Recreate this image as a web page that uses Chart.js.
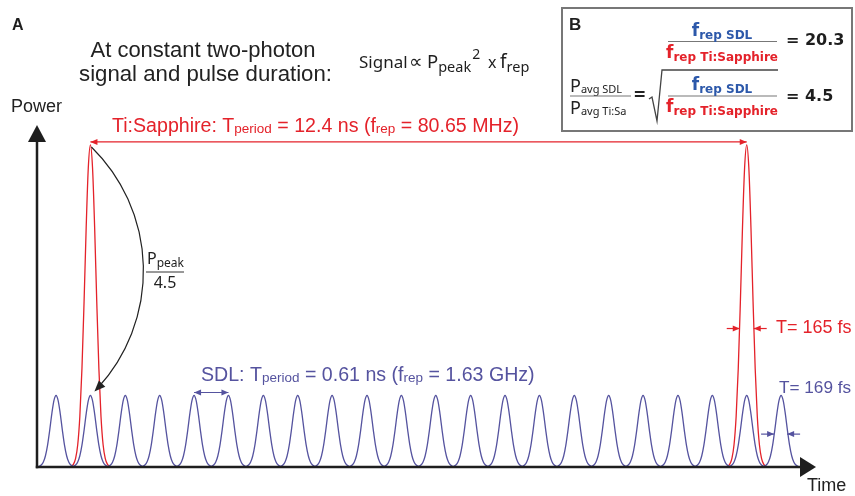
<!DOCTYPE html>
<html><head><meta charset="utf-8">
<script src="https://cdn.jsdelivr.net/npm/chart.js@4"></script>
<style>html,body{margin:0;padding:0;background:#fff;overflow:hidden}</style>
</head><body>
<canvas id="c" width="855" height="496"></canvas>
<script>
// ---------- data ----------
// pulse centre times (ns) along the time axis
const sdlPeakTimes = [0.36,1.01,1.67,2.32,2.97,3.62,4.28,4.93,5.58,6.24,6.89,7.54,8.20,8.85,9.50,10.16,10.81,11.46,12.12,12.77,13.42,14.07];
const tiSapphirePeakTimes = [1.01, 13.42];
// relative peak power
const tiSapphirePeak = 1.0;
const sdlPeak = 0.222;            // Ppeak / 4.5
// single pulse profile (offset from centre in ns, relative height)
const pulseOffsets = [-0.36,-0.32,-0.28,-0.24,-0.20,-0.16,-0.12,-0.08,-0.04,0,0.04,0.08,0.12,0.16,0.20,0.24,0.28,0.32,0.36];
const pulseShape   = [0.002,0.009,0.027,0.069,0.157,0.306,0.513,0.744,0.929,1,0.929,0.744,0.513,0.306,0.157,0.069,0.027,0.009,0.002];
// axis extents
const timeAxisMax = 14.73;
const powerAxisMax = 1.062;

const RED = '#e4222a', BLUE = '#55539f', BOXBLUE = '#2c58aa', DARK = '#1e1e1e';
const ARIAL = '"Liberation Sans", Arial, sans-serif';
const SANS = '"Noto Sans", "Open Sans", sans-serif';
const VERD = '"DejaVu Sans", Verdana, sans-serif';

function pulseTrain(peaks, amp) {
  const pts = [];
  peaks.forEach((t, i) => {
    if (i) pts.push({x: t - 0.36, y: null});
    pulseOffsets.forEach((o, j) => pts.push({x: t + o, y: amp * pulseShape[j]}));
  });
  return pts;
}

function runs(ctx, x, y, parts, align) {
  let total = 0;
  parts.forEach(p => { ctx.font = p.f; p.w = ctx.measureText(p.t).width; total += p.w; });
  if (align === 'center') x -= total / 2;
  ctx.textAlign = 'left'; ctx.textBaseline = 'alphabetic';
  parts.forEach(p => {
    if (p.x !== undefined) x = p.x;
    ctx.font = p.f; ctx.fillStyle = p.c || DARK; ctx.fillText(p.t, x, y + (p.dy || 0)); x += p.w + (p.gap || 0);
  });
  return total;
}
function arrowHead(ctx, x, y, ang, len, half, color) {
  ctx.save(); ctx.fillStyle = color; ctx.translate(x, y); ctx.rotate(ang);
  ctx.beginPath(); ctx.moveTo(0, 0); ctx.lineTo(-len, -half); ctx.lineTo(-len, half); ctx.closePath(); ctx.fill();
  ctx.restore();
}
function hArrow(ctx, x1, x2, y, color, both, lw) {
  ctx.strokeStyle = color; ctx.lineWidth = lw || 1.2;
  ctx.beginPath(); ctx.moveTo(x1, y); ctx.lineTo(x2, y); ctx.stroke();
  arrowHead(ctx, x2, y, x2 > x1 ? 0 : Math.PI, 7, 3, color);
  if (both) arrowHead(ctx, x1, y, x2 > x1 ? Math.PI : 0, 7, 3, color);
}

const overlay = {
  id: 'overlay',
  afterDatasetsDraw(chart) {
    const ctx = chart.ctx, xs = chart.scales.x, ys = chart.scales.y;
    const X = v => xs.getPixelForValue(v), Y = v => ys.getPixelForValue(v);
    const x0 = X(0), y0 = Y(0), top = Y(powerAxisMax), right = X(timeAxisMax);
    ctx.save();
    // axes
    ctx.strokeStyle = DARK; ctx.lineWidth = 2.5; ctx.lineCap = 'butt';
    ctx.beginPath(); ctx.moveTo(x0, y0 + 1.2); ctx.lineTo(x0, top + 14); ctx.stroke();
    ctx.beginPath(); ctx.moveTo(x0 - 1.2, y0); ctx.lineTo(right - 14, y0); ctx.stroke();
    ctx.fillStyle = DARK;
    ctx.beginPath(); ctx.moveTo(x0, top); ctx.lineTo(x0 - 9, top + 17); ctx.lineTo(x0 + 9, top + 17); ctx.closePath(); ctx.fill();
    ctx.beginPath(); ctx.moveTo(right, y0); ctx.lineTo(right - 16, y0 - 10); ctx.lineTo(right - 16, y0 + 10); ctx.closePath(); ctx.fill();

    // labels
    const f = (s, fam, b) => (b ? 'bold ' : '') + s + 'px ' + fam;
    runs(ctx, 12, 30, [{t: 'A', f: f(16, ARIAL, true)}]);
    runs(ctx, 203, 57, [{t: 'At constant two-photon', f: f(22, ARIAL), c: '#222'}], 'center');
    runs(ctx, 205.5, 81, [{t: 'signal and pulse duration:', f: f(22.2, ARIAL), c: '#222'}], 'center');
    runs(ctx, 11, 112, [{t: 'Power', f: f(18, ARIAL), c: '#222'}]);
    runs(ctx, 807, 491, [{t: 'Time', f: f(18, ARIAL), c: '#222'}]);

    runs(ctx, 359, 68, [
      {t: 'Signal', f: f(17, SANS)}, {t: '\u221D', f: f(19, SANS), x: 409}, {t: 'P', f: f(18.5, SANS), x: 427},
      {t: 'peak', f: f(14.5, SANS), dy: 4, gap: 1}, {t: '2', f: f(14, SANS), dy: -9},
      {t: 'x', f: f(16, SANS), x: 488}, {t: 'f', f: f(19, SANS), x: 500}, {t: 'rep', f: f(14.5, SANS), dy: 4}]);

    // Ti:Sapphire period
    const rpX1 = X(tiSapphirePeakTimes[0]), rpX2 = X(tiSapphirePeakTimes[1]);
    runs(ctx, 112, 132, [
      {t: 'Ti:Sapphire: T', f: f(19.6, ARIAL), c: RED}, {t: 'period', f: f(13.5, ARIAL), c: RED, dy: 1},
      {t: ' = 12.4 ns (f', f: f(19.6, ARIAL), c: RED}, {t: 'rep', f: f(13.5, ARIAL), c: RED, dy: 1},
      {t: ' = 80.65 MHz)', f: f(19.6, ARIAL), c: RED}]);
    hArrow(ctx, rpX1, rpX2, Y(tiSapphirePeak) - 3, RED, true, 1.2);

    // SDL period
    runs(ctx, 201, 381, [
      {t: 'SDL: T', f: f(19.6, ARIAL), c: BLUE}, {t: 'period', f: f(13.5, ARIAL), c: BLUE, dy: 1},
      {t: ' = 0.61 ns (f', f: f(19.6, ARIAL), c: BLUE}, {t: 'rep', f: f(13.5, ARIAL), c: BLUE, dy: 1},
      {t: ' = 1.63 GHz)', f: f(19.6, ARIAL), c: BLUE}]);
    hArrow(ctx, X(sdlPeakTimes[4]), X(sdlPeakTimes[5]), Y(sdlPeak) - 3, BLUE, true, 1.2);

    // pulse widths
    const rx = X(tiSapphirePeakTimes[1]), ry = Y(0.43);
    hArrow(ctx, rx - 20, rx - 7, ry, RED, false, 1.2);
    hArrow(ctx, rx + 20, rx + 7, ry, RED, false, 1.2);
    runs(ctx, 776, 333, [{t: 'T= 165 fs', f: f(18, ARIAL), c: RED}]);
    const bx = X(sdlPeakTimes[21]), by = Y(sdlPeak * 0.46);
    hArrow(ctx, bx - 20, bx - 7, by, BLUE, false, 1.2);
    hArrow(ctx, bx + 19, bx + 6, by, BLUE, false, 1.2);
    runs(ctx, 779, 393, [{t: 'T= 169 fs', f: f(17.2, ARIAL), c: BLUE}]);

    // curved arrow Ppeak -> Ppeak/4.5
    const sx = X(tiSapphirePeakTimes[0]) + 1, sy = Y(tiSapphirePeak) + 2;
    const ex = X(tiSapphirePeakTimes[0]) + 4, ey = Y(sdlPeak) - 4;
    const mx = sx + 52, my = (sy + ey) / 2 + 2;
    const d = 2 * (sx * (my - ey) + mx * (ey - sy) + ex * (sy - my));
    const cx = ((sx*sx + sy*sy) * (my - ey) + (mx*mx + my*my) * (ey - sy) + (ex*ex + ey*ey) * (sy - my)) / d;
    const cy = ((sx*sx + sy*sy) * (ex - mx) + (mx*mx + my*my) * (sx - ex) + (ex*ex + ey*ey) * (mx - sx)) / d;
    const r = Math.hypot(sx - cx, sy - cy);
    const a1 = Math.atan2(sy - cy, sx - cx), a2 = Math.atan2(ey - cy, ex - cx);
    ctx.strokeStyle = '#222'; ctx.lineWidth = 1.2;
    ctx.beginPath(); ctx.arc(cx, cy, r, a1, a2 - 0.03, false); ctx.stroke();
    arrowHead(ctx, ex, ey, a2 + Math.PI / 2, 11, 4.5, '#222');
    runs(ctx, 147, 264, [{t: 'P', f: f(16, SANS), c: '#222'}, {t: 'peak', f: f(12, SANS), c: '#222', dy: 3}]);
    ctx.strokeStyle = '#333'; ctx.lineWidth = 1;
    ctx.beginPath(); ctx.moveTo(146, 272); ctx.lineTo(184, 272); ctx.stroke();
    runs(ctx, 165, 288, [{t: '4.5', f: f(16, SANS), c: '#222'}], 'center');

    // box B
    ctx.fillStyle = '#fff'; ctx.fillRect(562, 8, 290, 123);
    ctx.strokeStyle = '#777'; ctx.lineWidth = 2; ctx.strokeRect(562, 8, 290, 123);
    runs(ctx, 569, 30, [{t: 'B', f: f(17, ARIAL, true)}]);
    const fr = (cxp, y) => {
      runs(ctx, cxp, y - 6, [{t: 'f', f: f(17, VERD, true), c: BOXBLUE}, {t: 'rep SDL', f: f(12, VERD, true), c: BOXBLUE, dy: 3}], 'center');
      runs(ctx, cxp, y + 16, [{t: 'f', f: f(17, VERD, true), c: RED}, {t: 'rep Ti:Sapphire', f: f(12, VERD, true), c: RED, dy: 3}], 'center');
    };
    ctx.strokeStyle = '#777'; ctx.lineWidth = 1.2;
    ctx.beginPath(); ctx.moveTo(668, 41.5); ctx.lineTo(777, 41.5); ctx.stroke();
    fr(722, 41.5);
    runs(ctx, 786, 45, [{t: '= 20.3', f: f(16, VERD, true)}]);
    // second row
    runs(ctx, 570, 92, [{t: 'P', f: f(18, SANS), c: '#222'}, {t: 'avg SDL', f: f(11, SANS), c: '#222', dy: 1}]);
    ctx.beginPath(); ctx.moveTo(570, 96); ctx.lineTo(631, 96); ctx.stroke();
    runs(ctx, 570, 114, [{t: 'P', f: f(18, SANS), c: '#222'}, {t: 'avg Ti:Sa', f: f(11, SANS), c: '#222', dy: 1}]);
    runs(ctx, 634, 101, [{t: '=', f: f(20, SANS, true), c: '#222'}]);
    ctx.strokeStyle = '#444'; ctx.lineWidth = 1.3;
    ctx.beginPath(); ctx.moveTo(649, 99); ctx.lineTo(652, 97); ctx.lineTo(657, 121); ctx.lineTo(662, 70); ctx.lineTo(778, 70); ctx.stroke();
    ctx.strokeStyle = '#777'; ctx.lineWidth = 1.2;
    ctx.beginPath(); ctx.moveTo(668, 96); ctx.lineTo(777, 96); ctx.stroke();
    fr(722, 96);
    runs(ctx, 786, 101, [{t: '= 4.5', f: f(16, VERD, true)}]);
    ctx.restore();
  }
};

new Chart(document.getElementById('c'), {
  type: 'line',
  data: {
    datasets: [
      {label: 'SDL', data: pulseTrain(sdlPeakTimes, sdlPeak), borderColor: BLUE, borderWidth: 1.3,
       pointRadius: 0, cubicInterpolationMode: 'monotone', spanGaps: false, clip: false},
      {label: 'Ti:Sapphire', data: pulseTrain(tiSapphirePeakTimes, tiSapphirePeak), borderColor: RED, borderWidth: 1.3,
       pointRadius: 0, cubicInterpolationMode: 'monotone', spanGaps: false, clip: false}
    ]
  },
  options: {
    responsive: false, animation: false, events: [],
    layout: {padding: {left: 37, right: 39, top: 125, bottom: 29}},
    scales: {
      x: {type: 'linear', min: 0, max: timeAxisMax, display: false},
      y: {min: 0, max: powerAxisMax, display: false}
    },
    plugins: {legend: {display: false}, tooltip: {enabled: false}}
  },
  plugins: [overlay]
});
</script>
</body></html>
